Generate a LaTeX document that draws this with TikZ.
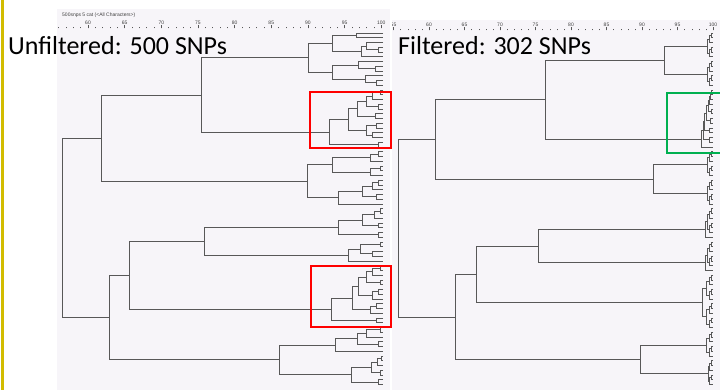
\documentclass[tikz,border=0pt]{standalone}
\usepackage{fontspec}
\setmainfont{Carlito}
\newfontfamily\axf{Liberation Sans}
\usetikzlibrary{calc}
\definecolor{panelbg}{RGB}{247,245,249}
\definecolor{brc}{RGB}{88,88,88}
\definecolor{edgeyellow}{RGB}{210,188,0}
\definecolor{gboxc}{RGB}{0,176,80}
\newcommand\nd[4]{%
  \path let \p1=($(#3)!.5!(#4)$) in coordinate (#1) at (#2pt,\y1);
  \draw[br] (#3) -| (#1 |- #4) -- (#4);}
\begin{document}
\begin{tikzpicture}[x=1pt,y=-1pt,
  br/.style={draw=brc,line width=0.8pt},
  rbox/.style={draw=red,line width=2.6pt},
  gbx/.style={draw=gboxc,line width=2.6pt},
  axtick/.style={draw=black!65,line width=0.4pt},
  ttl/.style={font=\fontsize{26}{28}\selectfont,anchor=base west,inner sep=0},
  axl/.style={font=\axf\fontsize{5}{6}\selectfont,inner sep=0,text=black!75}]
\useasboundingbox (0,0) rectangle (720,390);
\fill[white] (0,0) rectangle (720,390);
\fill[panelbg] (57,9) rectangle (390,390);
\fill[panelbg] (392,20) rectangle (720,390);
\fill[fill=edgeyellow] (0.5,0) rectangle (4,390);
% left axis
\node[axl,anchor=west] (hdr) at (62,15) {500snps 5 cat (<All Characters>)};
\foreach \v in {56,...,100} \draw[axtick] ({88+(\v-60)*7.33},28.5) -- ++(0,-1.5);
\foreach \v in {60,65,...,100} {
  \draw[axtick] ({88+(\v-60)*7.33},28.5) -- ++(0,-3);
  \node[axl] (la\v) at ({88+(\v-60)*7.33},22.5) {\v};}
% right axis
\begin{scope}
\clip (392,20) rectangle (720,40);
\foreach \v in {55,...,100} \draw[axtick] ({713-(100-\v)*7.1},30.5) -- ++(0,-1.5);
\foreach \v in {55,60,...,100} {
  \draw[axtick] ({713-(100-\v)*7.1},30.5) -- ++(0,-3);
  \node[axl] (ra\v) at ({713-(100-\v)*7.1},24.5) {\v};}
\end{scope}
% titles
\node[ttl] (t1) at (8,55) {Unfiltered: 500 SNPs};
\node[ttl] (t2) at (398,55) {Filtered: 302 SNPs};
% leaves
\foreach \i in {0,...,74} {
  \coordinate (La\i) at (383,{33+4.75*\i});
  \coordinate (Lb\i) at (713,{33+4.75*\i});}
% ---------- left tree
\nd{la1a}{356}{La0}{La1}
\nd{la1b}{378}{La3}{La4}
\nd{la1c}{366}{La2}{la1b}
\nd{la1d}{361}{la1c}{La5}
\nd{lA1}{332}{la1a}{la1d}
\nd{la2a}{375}{La7}{La8}
\nd{la2b}{358}{La6}{la2a}
\nd{la2c}{376}{La10}{La11}
\nd{la2d}{365}{La9}{la2c}
\nd{lA2}{332}{la2b}{la2d}
\nd{lA}{308}{lA1}{lA2}
\nd{lb1}{380}{La12}{La13}
\nd{lb2}{372}{lb1}{La14}
\nd{lb3}{378}{La15}{La16}
\nd{lb4}{366}{lb2}{lb3}
\nd{lb5}{375}{La17}{La18}
\nd{lBa}{357}{lb4}{lb5}
\nd{lb6}{376}{La19}{La20}
\nd{lb7}{372}{La21}{La22}
\nd{lBb}{366}{lb6}{lb7}
\nd{lBu}{348}{lBa}{lBb}
\nd{lBl}{378}{La23}{La24}
\nd{lB}{329}{lBu}{lBl}
\nd{lU1}{201}{lA}{lB}
\nd{lc1}{378}{La25}{La26}
\nd{lc2}{370}{lc1}{La27}
\nd{lc3}{380}{La28}{La29}
\nd{lc5}{370}{lc3}{La30}
\nd{lCu}{332}{lc2}{lc5}
\nd{lc6}{378}{La31}{La32}
\nd{lc7}{372}{lc6}{La33}
\nd{lc8}{376}{La34}{La35}
\nd{lc9}{362}{lc7}{lc8}
\nd{lCl}{338}{lc9}{La36}
\nd{lC}{307}{lCu}{lCl}
\nd{lU}{101}{lU1}{lC}
\nd{ld1}{380}{La37}{La38}
\nd{ld2}{374}{ld1}{La39}
\nd{ld3}{378}{La40}{La41}
\nd{ld4}{362}{ld2}{ld3}
\nd{ld5}{378}{La42}{La43}
\nd{lD1}{338}{ld4}{ld5}
\nd{ld6}{380}{La44}{La45}
\nd{ld7}{372}{La46}{La47}
\nd{ld8}{360}{ld6}{ld7}
\nd{lD2}{348}{ld8}{La48}
\nd{lD}{204}{lD1}{lD2}
\nd{le1}{380}{La49}{La50}
\nd{le2}{372}{le1}{La51}
\nd{le3}{380}{La52}{La53}
\nd{le4}{366}{le2}{le3}
\nd{le5}{378}{La54}{La55}
\nd{le6}{372}{le5}{La56}
\nd{le7}{358}{le4}{le6}
\nd{le8}{376}{La57}{La58}
\nd{le9}{370}{le8}{La59}
\nd{lEu}{352}{le7}{le9}
\nd{lEl}{376}{La60}{La61}
\nd{lE}{331}{lEu}{lEl}
\nd{lDE}{129}{lD}{lE}
\nd{lf1}{380}{La62}{La63}
\nd{lf2}{366}{lf1}{La64}
\nd{lf3}{378}{La65}{La66}
\nd{lf4}{357}{lf2}{lf3}
\nd{lF1}{335}{lf4}{La67}
\nd{lf5}{381}{La68}{La69}
\nd{lf6}{377}{lf5}{La70}
\nd{lf7}{380}{La71}{La72}
\nd{lf8}{371}{lf6}{lf7}
\nd{lf9}{378}{La73}{La74}
\nd{lF2}{351}{lf8}{lf9}
\nd{lF}{279}{lF1}{lF2}
\nd{lL}{109}{lDE}{lF}
\nd{lR}{62}{lU}{lL}
% ---------- right tree
\nd{r1}{711}{Lb0}{Lb1} \nd{r2}{709}{r1}{Lb2} \nd{r3}{711}{Lb3}{Lb4} \nd{r4}{709}{r3}{Lb5} \nd{rC1}{707}{r2}{r4}
\nd{r5}{711}{Lb6}{Lb7} \nd{r6}{709}{r5}{Lb8} \nd{r7}{711}{Lb9}{Lb10} \nd{r8}{709}{r7}{Lb11} \nd{rC2}{707}{r6}{r8}
\nd{rX0}{664}{rC1}{rC2}
\nd{g1}{711}{Lb12}{Lb13} \nd{g2}{710}{g1}{Lb14} \nd{g3}{709}{g2}{Lb15} \nd{g4}{711}{Lb16}{Lb17}
\nd{g5}{708}{g3}{g4} \nd{g6}{710}{Lb18}{Lb19} \nd{g7}{706}{g5}{g6} \nd{g8}{709}{Lb20}{Lb21}
\nd{g9}{704}{g7}{g8} \nd{g10}{709}{Lb22}{Lb23} \nd{g11}{703}{g9}{g10} \nd{rG}{701}{g11}{Lb24}
\nd{rX1}{545}{rX0}{rG}
\nd{h1}{711}{Lb25}{Lb26} \nd{h2}{709}{h1}{Lb27} \nd{h3}{711}{Lb28}{Lb29} \nd{h4}{709}{h3}{Lb30} \nd{rH1}{707}{h2}{h4}
\nd{h5}{711}{Lb31}{Lb32} \nd{h6}{709}{h5}{Lb33} \nd{h7}{711}{Lb34}{Lb35} \nd{h8}{709}{h7}{Lb36} \nd{rH2}{707}{h6}{h8}
\nd{rH}{653}{rH1}{rH2}
\nd{rU}{435}{rX1}{rH}
\nd{n1}{711}{Lb37}{Lb38} \nd{n2}{709}{n1}{Lb39} \nd{n3}{711}{Lb40}{Lb41} \nd{n4}{709}{n3}{Lb42} \nd{n5}{707}{n2}{n4} \nd{rN1}{705}{n5}{Lb43}
\nd{n6}{711}{Lb44}{Lb45} \nd{n7}{709}{n6}{Lb46} \nd{n8}{711}{Lb47}{Lb48} \nd{n9}{709}{n8}{Lb49} \nd{n10}{707}{n7}{n9} \nd{rN2}{705}{n10}{Lb50}
\nd{rN}{538}{rN1}{rN2}
\nd{p1}{711}{Lb51}{Lb52} \nd{p2}{709}{p1}{Lb53} \nd{p3}{711}{Lb54}{Lb55} \nd{p4}{709}{p3}{Lb56} \nd{rP1}{706}{p2}{p4}
\nd{p5}{711}{Lb57}{Lb58} \nd{p6}{709}{p5}{Lb59} \nd{p7}{711}{Lb60}{Lb61} \nd{p8}{709}{p7}{Lb62} \nd{rP2}{706}{p6}{p8}
\nd{rP}{702}{rP1}{rP2}
\nd{rM}{476}{rN}{rP}
\nd{q1}{711}{Lb63}{Lb64} \nd{q2}{709}{q1}{Lb65} \nd{q3}{711}{Lb66}{Lb67} \nd{q4}{709}{q3}{Lb68} \nd{rF1}{706}{q2}{q4}
\nd{q5}{711}{Lb69}{Lb70} \nd{q6}{709}{q5}{Lb71} \nd{q7}{711}{Lb72}{Lb73} \nd{q8}{709}{q7}{Lb74} \nd{rF2}{708}{q6}{q8}
\nd{rF}{640}{rF1}{rF2}
\nd{rL}{455}{rM}{rF}
\nd{rR}{398}{rU}{rL}
% ---------- highlight boxes
\draw[rbox] (310,92) rectangle (391,148);
\draw[rbox] (311,266) rectangle (391,327);
\draw[gbx] (667,93) rectangle (722,153);
\end{tikzpicture}
\end{document}
